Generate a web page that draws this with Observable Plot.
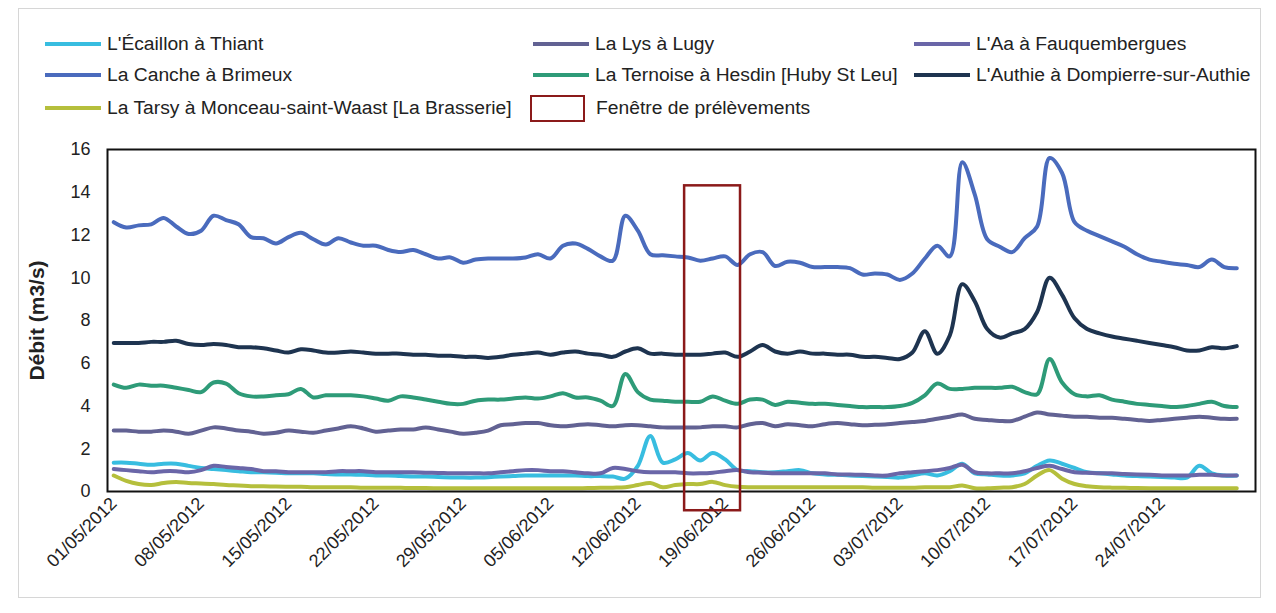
<!DOCTYPE html>
<html>
<head>
<meta charset="utf-8">
<script src="https://cdn.jsdelivr.net/npm/d3@7"></script>
<script src="https://cdn.jsdelivr.net/npm/@observablehq/plot@0.6"></script>
<style>
  html, body { margin: 0; padding: 0; background: #fff; }
  #wrap { position: relative; width: 1276px; height: 613px; overflow: hidden; font-family: "Liberation Sans", Arial, sans-serif; color: #222; }
  #border { position: absolute; left: 18px; top: 8px; width: 1243px; height: 590px; border: 1px solid #d6d6d6; box-sizing: border-box; }
  .lg { position: absolute; font-size: 18px; white-space: nowrap; line-height: 20px; transform: scaleX(1.07); transform-origin: left center; }
  .sw { position: absolute; height: 4px; }
  .box { position: absolute; border: 2.5px solid #8b1a1a; box-sizing: border-box; }
  #chart { position: absolute; left: 0; top: 130px; }
  #chart svg { overflow: visible; }
  [aria-label="y-axis label"] text { font-weight: bold; font-size: 21px; }
</style>
</head>
<body>
<div id="wrap">
  <div id="border"></div>
  <div id="legend"></div>
  <div id="chart"></div>
</div>
<script>
// ---- data ----
const seriesNames = [
  "L'Écaillon à Thiant",
  "La Lys à Lugy",
  "L'Aa à Fauquembergues",
  "La Canche à Brimeux",
  "La Ternoise à Hesdin [Huby St Leu]",
  "L'Authie à Dompierre-sur-Authie",
  "La Tarsy à Monceau-saint-Waast [La Brasserie]"
];
const seriesColors = ["#38bde0", "#626293", "#6a66a8", "#4a6bbd", "#2e9b78", "#1e3450", "#b5bf3c"];

const firstDay = "2012-05-01";
const lastDay = "2012-07-30";

const ecaillon = [
  1.35,1.35,1.3,1.25,1.3,1.3,1.2,1.1,1.05,1.0,
  0.95,0.9,0.9,0.88,0.85,0.85,0.85,0.82,0.8,0.8,
  0.78,0.75,0.75,0.72,0.7,0.7,0.68,0.66,0.65,0.65,
  0.67,0.7,0.72,0.75,0.75,0.75,0.75,0.75,0.72,0.72,
  0.7,0.6,1.2,2.6,1.35,1.5,1.8,1.45,1.8,1.5,
  1.0,0.95,0.9,0.9,0.95,1.0,0.85,0.8,0.78,0.75,
  0.72,0.7,0.68,0.65,0.75,0.85,0.75,0.95,1.3,0.85,
  0.8,0.75,0.75,0.85,1.2,1.45,1.3,1.1,0.9,0.85,
  0.8,0.75,0.72,0.7,0.68,0.65,0.65,1.2,0.85,0.75,
  0.75
];
const lys = [
  2.85,2.85,2.8,2.8,2.85,2.8,2.7,2.85,3.0,2.95,
  2.85,2.8,2.7,2.75,2.85,2.8,2.75,2.85,2.95,3.05,
  2.95,2.8,2.85,2.9,2.9,3.0,2.9,2.8,2.7,2.75,
  2.85,3.1,3.15,3.2,3.2,3.1,3.05,3.1,3.15,3.1,
  3.05,3.1,3.1,3.05,3.0,3.0,3.0,3.0,3.05,3.05,
  3.0,3.15,3.2,3.05,3.15,3.1,3.05,3.15,3.2,3.15,
  3.1,3.12,3.15,3.2,3.25,3.3,3.4,3.5,3.6,3.4,
  3.35,3.3,3.3,3.5,3.7,3.6,3.55,3.5,3.5,3.45,
  3.45,3.4,3.35,3.3,3.35,3.4,3.45,3.5,3.45,3.4,
  3.4
];
const aa = [
  1.05,1.0,0.95,0.9,0.95,0.95,0.9,1.0,1.2,1.15,
  1.1,1.05,0.95,0.95,0.9,0.9,0.9,0.9,0.95,0.95,
  0.95,0.9,0.9,0.9,0.9,0.88,0.87,0.85,0.85,0.85,
  0.85,0.9,0.95,1.0,1.0,0.95,0.95,0.9,0.85,0.85,
  1.1,1.05,0.95,0.9,0.9,0.9,0.85,0.85,0.88,0.95,
  1.0,0.9,0.88,0.85,0.85,0.85,0.85,0.85,0.8,0.8,
  0.78,0.75,0.75,0.85,0.9,0.95,1.0,1.1,1.25,0.9,
  0.85,0.85,0.85,0.95,1.1,1.2,1.05,0.9,0.88,0.85,
  0.85,0.82,0.8,0.78,0.75,0.75,0.75,0.78,0.78,0.75,
  0.75
];
const canche = [
  12.6,12.35,12.45,12.5,12.8,12.4,12.05,12.2,12.9,12.7,
  12.5,11.9,11.85,11.6,11.9,12.1,11.8,11.55,11.85,11.65,
  11.5,11.5,11.3,11.2,11.3,11.1,10.9,10.95,10.7,10.85,
  10.9,10.9,10.9,10.95,11.1,10.9,11.5,11.6,11.35,11.0,
  10.8,12.9,12.2,11.1,11.05,11.0,10.95,10.8,10.9,11.0,
  10.6,11.1,11.2,10.55,10.75,10.7,10.5,10.5,10.5,10.45,
  10.15,10.2,10.15,9.9,10.2,10.9,11.5,11.0,15.4,13.9,
  11.8,11.45,11.2,11.85,12.4,15.6,14.9,12.6,12.2,11.95,
  11.7,11.45,11.1,10.85,10.75,10.65,10.6,10.5,10.85,10.5,
  10.45
];
const ternoise = [
  5.0,4.85,5.0,4.95,4.95,4.85,4.75,4.65,5.1,5.05,
  4.6,4.45,4.45,4.5,4.55,4.8,4.4,4.5,4.5,4.5,
  4.45,4.35,4.25,4.45,4.4,4.3,4.2,4.1,4.1,4.25,
  4.3,4.3,4.35,4.4,4.35,4.45,4.6,4.4,4.4,4.25,
  4.0,5.5,4.65,4.3,4.25,4.2,4.2,4.2,4.45,4.25,
  4.1,4.3,4.3,4.05,4.2,4.15,4.1,4.1,4.05,4.0,
  3.95,3.95,3.95,4.0,4.15,4.5,5.05,4.8,4.8,4.85,
  4.85,4.85,4.9,4.65,4.55,6.2,5.1,4.55,4.45,4.5,
  4.3,4.2,4.1,4.05,4.0,3.95,4.0,4.1,4.2,4.0,
  3.95
];
const authie = [
  6.95,6.95,6.95,7.0,7.0,7.05,6.9,6.85,6.9,6.85,
  6.75,6.75,6.7,6.6,6.5,6.65,6.6,6.5,6.5,6.55,
  6.5,6.45,6.45,6.45,6.4,6.4,6.35,6.35,6.3,6.3,
  6.25,6.3,6.4,6.45,6.5,6.4,6.5,6.55,6.45,6.4,
  6.3,6.55,6.7,6.45,6.45,6.4,6.4,6.4,6.45,6.5,
  6.3,6.55,6.85,6.55,6.45,6.55,6.45,6.45,6.4,6.4,
  6.3,6.3,6.25,6.2,6.5,7.5,6.45,7.3,9.7,8.9,
  7.6,7.2,7.4,7.6,8.4,10.0,9.2,8.1,7.6,7.4,
  7.25,7.15,7.05,6.95,6.85,6.75,6.6,6.6,6.75,6.7,
  6.8
];
const tarsy = [
  0.75,0.5,0.35,0.3,0.4,0.45,0.4,0.38,0.35,0.3,
  0.28,0.25,0.25,0.23,0.22,0.22,0.2,0.2,0.2,0.2,
  0.18,0.18,0.17,0.17,0.16,0.16,0.15,0.15,0.15,0.15,
  0.15,0.15,0.15,0.15,0.15,0.15,0.15,0.15,0.16,0.17,
  0.18,0.2,0.3,0.4,0.2,0.3,0.35,0.35,0.45,0.3,
  0.22,0.2,0.2,0.2,0.2,0.2,0.2,0.2,0.2,0.2,
  0.2,0.18,0.18,0.18,0.18,0.2,0.2,0.2,0.28,0.15,
  0.15,0.18,0.2,0.35,0.75,1.0,0.6,0.35,0.25,0.2,
  0.18,0.17,0.16,0.15,0.15,0.15,0.15,0.15,0.15,0.15,
  0.15
];
const seriesValues = [ecaillon, lys, aa, canche, ternoise, authie, tarsy];

const tickLabels = ["01/05/2012","08/05/2012","15/05/2012","22/05/2012","29/05/2012","05/06/2012","12/06/2012",
  "19/06/2012","26/06/2012","03/07/2012","10/07/2012","17/07/2012","24/07/2012"];
const yTicks = [0, 2, 4, 6, 8, 10, 12, 14, 16];

const windowLabel = "Fenêtre de prélèvements";
const windowStart = "2012-06-15T18:00Z";
const windowEnd = "2012-06-20T05:30Z";
const windowTop = 14.3;
const windowBottom = -0.9;

const xDomain = ["2012-04-30T12:00Z", "2012-07-31T12:00Z"];

// ---- build ----
const parseTick = s => { const [d, m, y] = s.split("/").map(Number); return new Date(Date.UTC(y, m - 1, d)); };
const days = d3.utcDay.range(new Date(firstDay + "T00:00Z"), d3.utcDay.offset(new Date(lastDay + "T00:00Z"), 1));
const rows = [];
seriesNames.forEach((name, i) => {
  days.forEach((d, j) => rows.push({ series: name, date: d, value: seriesValues[i][j] }));
});

// legend
const legend = document.getElementById("legend");
const legendPos = [
  [45, 44], [533, 44], [914, 44],
  [45, 75], [533, 75], [914, 75],
  [45, 108]
];
seriesNames.forEach((name, i) => {
  const [x, y] = legendPos[i];
  const sw = document.createElement("div");
  sw.className = "sw";
  sw.style.left = x + "px"; sw.style.top = (y - 2) + "px"; sw.style.width = "56px";
  sw.style.background = seriesColors[i];
  legend.appendChild(sw);
  const t = document.createElement("div");
  t.className = "lg";
  t.style.left = (x + 62) + "px"; t.style.top = (y - 10) + "px";
  t.textContent = name;
  legend.appendChild(t);
});
const box = document.createElement("div");
box.className = "box";
box.style.left = "530px"; box.style.top = "95px"; box.style.width = "55px"; box.style.height = "27px";
legend.appendChild(box);
const bt = document.createElement("div");
bt.className = "lg";
bt.style.left = "596px"; bt.style.top = "98px";
bt.textContent = windowLabel;
legend.appendChild(bt);

const chart = Plot.plot({
  width: 1276,
  height: 470,
  marginLeft: 107,
  marginRight: 21,
  marginTop: 19,
  marginBottom: 109,
  style: { fontFamily: "Liberation Sans, Arial, sans-serif", fontSize: "17px", color: "#222", background: "transparent" },
  x: { type: "utc", domain: xDomain.map(s => new Date(s)) },
  y: { domain: [0, 16] },
  color: { domain: seriesNames, range: seriesColors },
  marks: [
    Plot.axisY({ ticks: yTicks, tickSize: 0, tickPadding: 17, fontSize: 18,
      label: "Débit (m3/s)", labelAnchor: "center", labelArrow: "none", labelOffset: 78 }),
    Plot.axisX({ ticks: tickLabels.map(parseTick), tickFormat: d3.utcFormat("%d/%m/%Y"),
      tickRotate: -45, tickSize: 0, tickPadding: 9, fontSize: 18, label: null }),
    Plot.lineY(rows, { x: "date", y: "value", z: "series", stroke: "series",
      strokeWidth: 4, curve: "catmull-rom" }),
    Plot.frame({ stroke: "#111", strokeWidth: 2 }),
    Plot.rect([{ x1: new Date(windowStart), x2: new Date(windowEnd), y1: windowBottom, y2: windowTop }],
      { x1: "x1", x2: "x2", y1: "y1", y2: "y2", fill: "none", stroke: "#8b1a1a", strokeWidth: 2.5 })
  ]
});
document.getElementById("chart").appendChild(chart);
</script>
</body>
</html>
